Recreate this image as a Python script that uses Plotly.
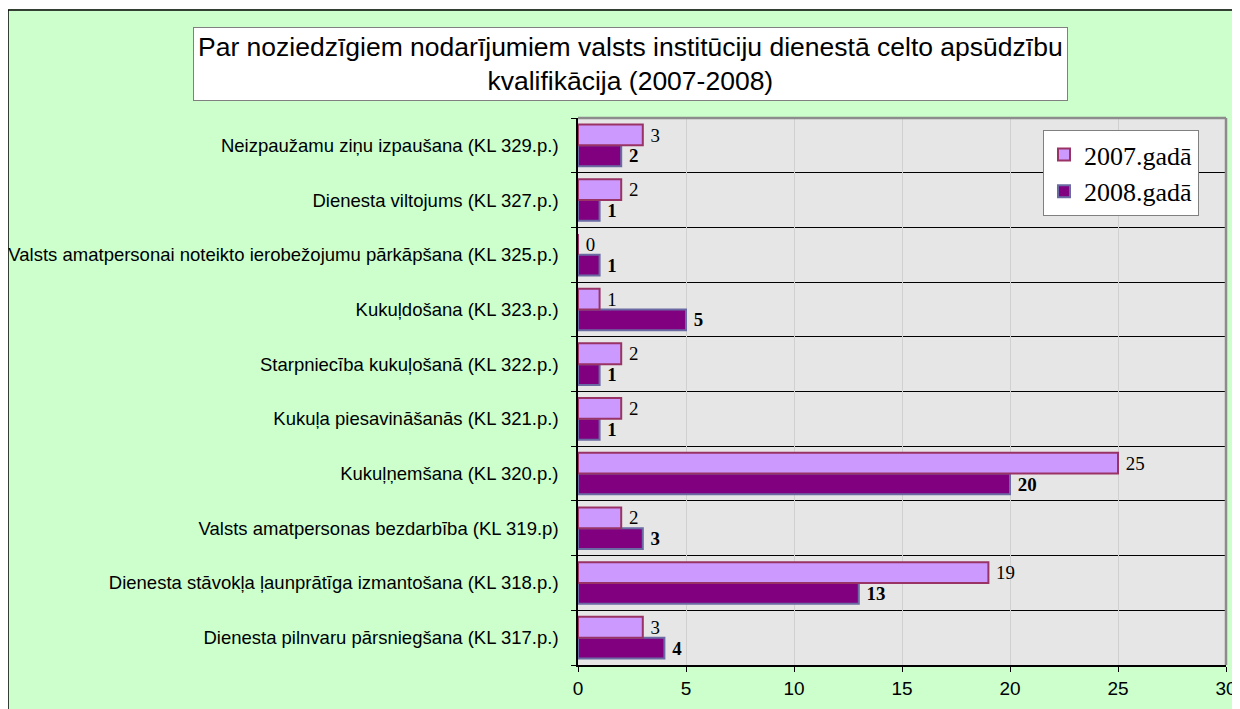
import plotly.graph_objects as go

# kategorijas no apakšas uz augšu
categories = [
    "Dienesta pilnvaru pārsniegšana (KL 317.p.)",
    "Dienesta stāvokļa ļaunprātīga izmantošana (KL 318.p.)",
    "Valsts amatpersonas bezdarbība (KL 319.p)",
    "Kukuļņemšana (KL 320.p.)",
    "Kukuļa piesavināšanās (KL 321.p.)",
    "Starpniecība kukuļošanā (KL 322.p.)",
    "Kukuļdošana (KL 323.p.)",
    "Valsts amatpersonai noteikto ierobežojumu pārkāpšana (KL 325.p.)",
    "Dienesta viltojums (KL 327.p.)",
    "Neizpaužamu ziņu izpaušana (KL 329.p.)",
]
vals_2007 = [3, 19, 2, 25, 2, 2, 1, 0, 2, 3]
vals_2008 = [4, 13, 3, 20, 1, 1, 5, 1, 1, 2]
x_ticks = [0, 5, 10, 15, 20, 25, 30]

pos = list(range(len(categories)))

# plot area in figure pixels (page has 8px body margin)
L, R, T, B = 570, 1218, 110, 657
W, H = 1232, 701
pw, ph = R - L, B - T

fig = go.Figure()
fig.add_trace(go.Bar(
    y=pos, x=vals_2008, orientation="h", name="2008.gadā",
    marker=dict(color="#800080", line=dict(color="#6b6ba3", width=2)),
    text=vals_2008, textposition="outside", texttemplate=" <b>%{x}</b>",
    textfont=dict(family="Liberation Serif", size=20, color="black"),
    cliponaxis=False,
))
fig.add_trace(go.Bar(
    y=pos, x=vals_2007, orientation="h", name="2007.gadā",
    marker=dict(color="#CC99FF", line=dict(color="#993366", width=2)),
    text=vals_2007, textposition="outside", texttemplate=" %{x}",
    textfont=dict(family="Liberation Serif", size=20, color="black"),
    cliponaxis=False,
))

# outer frame
fig.add_shape(type="rect", xref="paper", yref="paper",
              x0=(0 - L) / pw, x1=1.1, y0=-0.3, y1=1 + (T - 2) / ph,
              line=dict(color="black", width=1.5), layer="below")
fig.add_shape(type="rect", xref="paper", yref="paper",
              x0=-1, x1=1.2, y0=1 + (T - 1) / ph, y1=1.3,
              fillcolor="white", line=dict(width=0), layer="below")
# plot area border
fig.add_shape(type="line", xref="paper", yref="paper", x0=0, x1=1, y0=1, y1=1,
              line=dict(color="#8c8c8c", width=2.5), layer="above")
fig.add_shape(type="line", xref="paper", yref="paper", x0=1, x1=1, y0=0, y1=1,
              line=dict(color="#8c8c8c", width=2.5), layer="above")

fig.add_annotation(
    xref="paper", yref="paper", x=(622 - L) / pw, y=1 + (T - 56) / ph,
    text="Par noziedzīgiem nodarījumiem valsts institūciju dienestā celto apsūdzību<br>kvalifikācija (2007-2008)",
    showarrow=False, font=dict(family="Liberation Sans", size=26.5, color="black"),
    bgcolor="white", bordercolor="#808080", borderwidth=1, borderpad=4,
    xanchor="center", yanchor="middle", align="center",
)

fig.update_layout(
    width=W, height=H,
    margin=dict(l=L, r=W - R, t=T, b=H - B),
    paper_bgcolor="#CCFFCC", plot_bgcolor="#e6e6e6",
    barmode="group", bargap=0.24, bargroupgap=0,
    showlegend=True,
    legend=dict(
        x=(1191 - L) / pw, y=1 - (122 - T) / ph, xanchor="right", yanchor="top",
        traceorder="reversed", bgcolor="white", bordercolor="#808080", borderwidth=1,
        font=dict(family="Liberation Serif", size=26, color="black"),
        itemwidth=30, tracegroupgap=0,
    ),
    xaxis=dict(
        range=[0, 30], tickvals=x_ticks, showgrid=True, gridcolor="#d0d0d0", gridwidth=1,
        zeroline=False, showline=True, linecolor="black", linewidth=1.5,
        ticks="outside", ticklen=5, tickcolor="black", automargin=False,
        tickfont=dict(family="Liberation Sans", size=19, color="black"),
    ),
    yaxis=dict(
        range=[-0.5, len(categories) - 0.5], tickvals=pos, ticktext=categories,
        showgrid=False, zeroline=False, showline=True, linecolor="black", linewidth=1.5,
        ticks="", ticklabelstandoff=14, automargin=False,
        tickfont=dict(family="Liberation Sans", size=18.5, color="black"),
        minor=dict(tick0=0.5, dtick=1, showgrid=True, gridcolor="black", gridwidth=1,
                   ticks="outside", ticklen=5, tickcolor="black"),
    ),
    font=dict(family="Liberation Sans"),
)

fig.write_html("out.html")
